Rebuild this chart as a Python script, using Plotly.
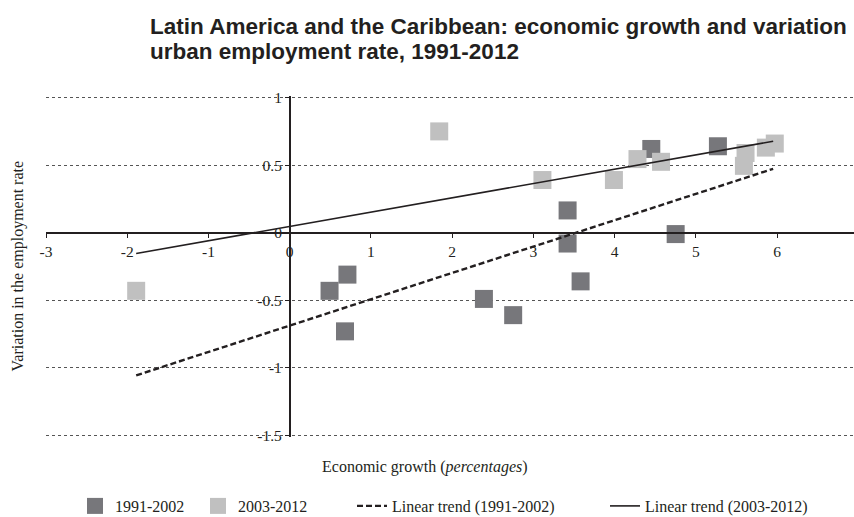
import plotly.graph_objects as go

# ---- data ----
growth_9102 = [0.49, 0.71, 0.68, 2.39, 2.75, 3.42, 3.42, 3.58, 4.75, 4.45, 5.27]
empl_9102 = [-0.43, -0.31, -0.73, -0.49, -0.61, 0.165, -0.08, -0.36, -0.01, 0.62, 0.64]

growth_0312 = [-1.89, 1.84, 3.11, 3.99, 4.28, 4.57, 5.59, 5.61, 5.86, 5.97]
empl_0312 = [-0.43, 0.75, 0.39, 0.39, 0.545, 0.525, 0.495, 0.59, 0.63, 0.66]

trend_x = [-1.89, 5.95]
trend_9102 = [-1.056, 0.473]
trend_0312 = [-0.154, 0.677]

x_ticks = [-3, -2, -1, 0, 1, 2, 3, 4, 5, 6, 7]
x_tick_labels = ["-3", "-2", "-1", "0", "1", "2", "3", "4", "5", "6", "7"]
y_ticks = [-1.5, -1, -0.5, 0, 0.5, 1]
y_tick_labels = ["-1.5", "-1", "-0.5", "0", "0.5", "1"]

title_lines = ["Latin America and the Caribbean: economic growth and variation",
               "urban employment rate, 1991-2012"]
series_names = ["1991-2002", "2003-2012", "Linear trend (1991-2002)", "Linear trend (2003-2012)"]

# ---- styling ----
ink = "#231f20"
serif = "Liberation Serif, Times New Roman, serif"
sans = "Liberation Sans, Arial, sans-serif"
dark = "#77777b"
light = "#c0c0c0"

W, H = 854, 517
ml, mr, mt, mb = 46, 0, 96, 80
x_range = [-3, 6.945]
y_range = [-1.512, 1.012]
PW, PH = W - ml - mr, H - mt - mb


def px_x(p):  # screen pixel -> paper x
    return (p - ml) / PW


def px_y(p):  # screen pixel -> paper y
    return (H - mb - p) / PH


fig = go.Figure()
fig.add_trace(go.Scatter(x=growth_9102, y=empl_9102, mode="markers", name=series_names[0],
                         legend="legend",
                         marker=dict(symbol="square", size=18, color=dark, line=dict(width=0))))
fig.add_trace(go.Scatter(x=growth_0312, y=empl_0312, mode="markers", name=series_names[1],
                         legend="legend2",
                         marker=dict(symbol="square", size=18, color=light, line=dict(width=0))))
fig.add_trace(go.Scatter(x=trend_x, y=trend_9102, mode="lines", name=series_names[2],
                         legend="legend3",
                         line=dict(color=ink, width=2.4, dash="6px,3px")))
fig.add_trace(go.Scatter(x=trend_x, y=trend_0312, mode="lines", name=series_names[3],
                         legend="legend4",
                         line=dict(color=ink, width=1.6)))

xpos = (0 - y_range[0]) / (y_range[1] - y_range[0])
ypos = (0 - x_range[0]) / (x_range[1] - x_range[0])

annotations = [
    dict(text="<b>" + title_lines[0] + "</b>", xref="paper", yref="paper",
         x=px_x(148), y=px_y(27), xanchor="left", yanchor="middle", showarrow=False,
         font=dict(family=sans, size=22.5, color=ink)),
    dict(text="<b>" + title_lines[1] + "</b>", xref="paper", yref="paper",
         x=px_x(148), y=px_y(52), xanchor="left", yanchor="middle", showarrow=False,
         font=dict(family=sans, size=22.5, color=ink)),
    dict(text="Variation in the employment rate", xref="paper", yref="paper",
         x=px_x(17), y=0.5, xanchor="center", yanchor="middle",
         textangle=-90, showarrow=False, font=dict(family=serif, size=16, color=ink)),
    dict(text="Economic growth (<i>percentages</i>)", xref="paper", yref="paper",
         x=px_x(425), y=px_y(467), xanchor="center", yanchor="middle", showarrow=False,
         font=dict(family=serif, size=16, color=ink)),
]


def leg(px):
    return dict(orientation="h", x=px_x(px), xanchor="left", y=px_y(506), yanchor="middle",
                font=dict(family=serif, size=16, color=ink), itemwidth=30,
                bgcolor="rgba(0,0,0,0)")


fig.update_layout(
    width=W, height=H,
    margin=dict(l=ml, r=mr, t=mt, b=mb, autoexpand=False),
    paper_bgcolor="white", plot_bgcolor="white",
    xaxis=dict(range=x_range, tickvals=x_ticks, ticktext=x_tick_labels, anchor="free",
               position=xpos, showline=True, linecolor=ink, linewidth=1.5, ticks="outside",
               ticklen=5, tickcolor=ink, showgrid=False, zeroline=False,
               tickfont=dict(family=serif, size=15.5, color=ink)),
    yaxis=dict(range=y_range, tickvals=y_ticks, ticktext=y_tick_labels, anchor="free",
               position=ypos, showline=True, linecolor=ink, linewidth=1.5, ticks="outside",
               ticklen=4, tickcolor=ink, showgrid=True, gridcolor="#555555", gridwidth=1,
               griddash="dot", zeroline=False,
               tickfont=dict(family=serif, size=15.5, color=ink)),
    showlegend=True,
    legend=leg(75),
    legend2=leg(198),
    legend3=leg(352),
    legend4=leg(605),
    annotations=annotations,
)

fig.write_html("out.html", config={"displayModeBar": False},
               post_script="document.body.style.margin='0px';")
